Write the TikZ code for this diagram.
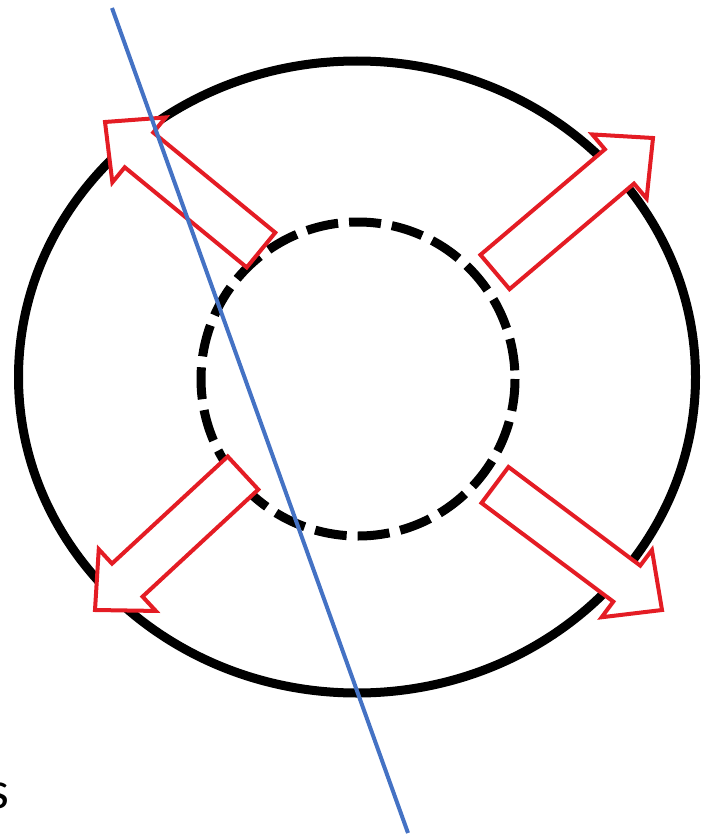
\documentclass[tikz,border=0pt]{standalone}
\usepackage{fontspec}
\newfontfamily\labelfont{Carlito}
\usetikzlibrary{calc}
\definecolor{arrowred}{RGB}{228,28,36}
\definecolor{lineblue}{RGB}{68,114,196}
\tikzset{
  ring/.style={draw=black, line width=9pt},
  innerring/.style={draw=black, line width=9pt, dash pattern=on 32pt off 11pt},
  blockarrow/.style={draw=arrowred, fill=white, line width=4pt, line join=miter},
  bluecut/.style={draw=lineblue, line width=4pt},
}
% #1 name, #2 shaft-end coordinate, #3 tip coordinate
\newcommand\lbarrow[3]{%
  \coordinate (#1h) at ($(#3)!44pt!(#2)$);
  \draw[blockarrow] ($(#2)!22.5pt!90:(#3)$) -- ($(#1h)!22.5pt!90:(#3)$)
    -- ($(#1h)!42pt!90:(#3)$) -- (#3) -- ($(#1h)!42pt!-90:(#3)$)
    -- ($(#1h)!22.5pt!-90:(#3)$) -- ($(#2)!22.5pt!-90:(#3)$) -- cycle;
}
\begin{document}
\begin{tikzpicture}[x=1pt,y=-1pt]
\useasboundingbox (0,0) rectangle (707,840);
% rings
\coordinate (c) at (357,377);
\draw[ring] (c) ellipse [x radius=338.5, y radius=316];
\coordinate (ci) at (358,379);
\draw[innerring] (ci) circle [radius=157];
% arrows
\coordinate (tls) at (261,250); \coordinate (tlt) at (105,122);
\coordinate (trs) at (495,272); \coordinate (trt) at (653,138);
\coordinate (bls) at (243,473); \coordinate (blt) at (95,610);
\coordinate (brs) at (495,485); \coordinate (brt) at (662,610);
\lbarrow{tl}{tls}{tlt}
\lbarrow{tr}{trs}{trt}
\lbarrow{bl}{bls}{blt}
\lbarrow{br}{brs}{brt}
% blue line
\coordinate (lt) at (112,8);
\coordinate (lb) at (408,833);
\draw[bluecut] (lt) -- (lb);
% text (cut off at the left edge, as in the reference)
\node[anchor=base east, inner sep=0pt, font=\labelfont\fontsize{53}{60}\selectfont] (s) at (9,808) {s};
\end{tikzpicture}
\end{document}
